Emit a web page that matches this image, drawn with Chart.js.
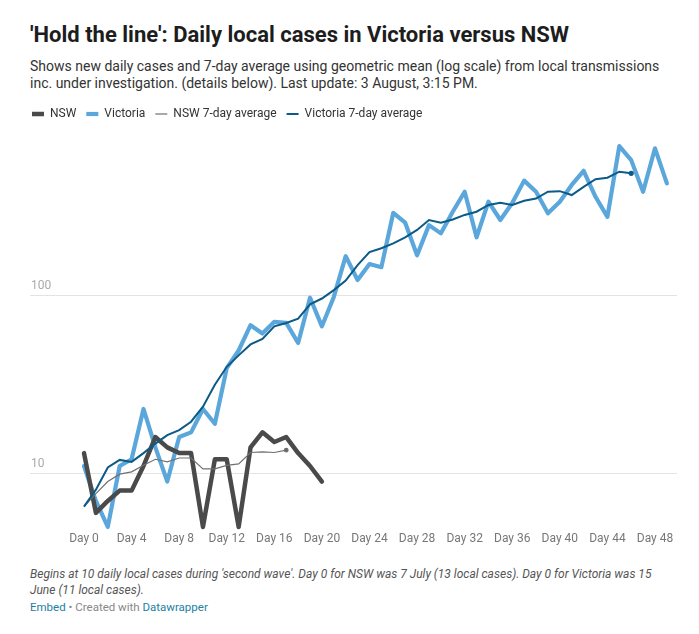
<!DOCTYPE html>
<html>
<head>
<meta charset="utf-8">
<script src="https://cdn.jsdelivr.net/npm/chart.js@4.4.1/dist/chart.umd.min.js"></script>
<style>
  body { margin: 0; background: #fff; font-family: Roboto, sans-serif; }
  #wrap { position: relative; width: 699px; height: 634px; overflow: hidden; }
  h1 { position: absolute; left: 30px; top: 21px; margin: 0; font-size: 22px; line-height: 28px; font-weight: 700; color: #1d1d1d; }
  .sub { position: absolute; left: 30px; top: 58px; width: 640px; font-size: 14px; line-height: 17px; color: #333; }
  .chart { position: absolute; left: 0; top: 98px; width: 699px; height: 455px; }
  .note { position: absolute; left: 30px; top: 566px; width: 640px; font-size: 12px; line-height: 16px; font-style: italic; color: #555; }
  .credit { position: absolute; left: 30px; top: 600px; font-size: 11.5px; color: #888; }
  .credit span { color: #1d81a2; }
</style>
</head>
<body>
<div id="wrap">
  <h1>'Hold the line': Daily local cases in Victoria versus NSW</h1>
  <div class="sub">Shows new daily cases and 7-day average using geometric mean (log scale) from local transmissions inc. under investigation. (details below). Last update: 3 August, 3:15 PM.</div>
  <div class="chart"><canvas id="casesChart"></canvas></div>
  <div class="note">Begins at 10 daily local cases during 'second wave'. Day 0 for NSW was 7 July (13 local cases). Day 0 for Victoria was 15 June (11 local cases).</div>
  <div class="credit"><span>Embed</span> • Created with <span>Datawrapper</span></div>
</div>
<script>
// Days since each state passed 10 daily local cases
const days = [0, 1, 2, 3, 4, 5, 6, 7, 8, 9, 10, 11, 12, 13, 14, 15, 16, 17, 18, 19,
              20, 21, 22, 23, 24, 25, 26, 27, 28, 29, 30, 31, 32, 33, 34, 35, 36, 37, 38, 39,
              40, 41, 42, 43, 44, 45, 46, 47, 48, 49];

const nsw = [13, 6, 7, 8, 8, 11, 16, 14, 13, 13, 5, 12, 12, 5, 14, 17, 15, 16, 13, 11, 9];
const victoria = [11, 7, 5, 11, 12, 23, 14, 9, 16, 17, 23, 19, 39, 49, 68, 61, 71, 70, 54, 97,
                  67, 98, 166, 122, 150, 144, 291, 256, 168, 248, 223, 295, 382, 212, 336, 265, 330, 441, 382, 289,
                  336, 417, 501, 358, 276, 690, 575, 382, 670, 426];

// 7-day geometric mean
const nswAvg = [6.5, 7.7, 9.0, 9.9, 10.2, 11.1, 12.0, 11.6, 12.2, 12.2, 10.6, 10.6, 11.1, 11.3, 13.1, 13.2, 13.1, 13.5];
const vicAvg = [6.5, 8.1, 10.8, 11.9, 11.6, 13.0, 14.7, 16.4, 17.5, 19.5, 23.7, 31.5, 39.7, 46, 53, 57, 67, 70, 74, 89,
                96, 107, 121, 148, 175, 184, 196, 212, 233, 265, 256, 267, 283, 295, 322, 331, 322, 340, 350, 382,
                385, 366, 407, 449, 458, 495, 485];

const dayTicks = [0, 4, 8, 12, 16, 20, 24, 28, 32, 36, 40, 44, 48];
const yTicks = [10, 100];

const toPoints = arr => arr.map((v, i) => ({ x: days[i], y: v }));
// small dot on the last point of the averages
const lastDot = (arr, r) => ctx => ctx.dataIndex === arr.length - 1 ? r : 0;

const ctx = document.getElementById('casesChart').getContext('2d');
const chart = new Chart(ctx, {
    type: 'line',
    data: {
        datasets: [{
            label: 'NSW',
            data: toPoints(nsw),
            borderColor: '#4a4a4a',
            borderWidth: 4.5,
            borderCapStyle: 'round',
            borderJoinStyle: 'round',
            pointRadius: 0,
            order: 2
        }, {
            label: 'Victoria',
            data: toPoints(victoria),
            borderColor: '#5ba7db',
            borderWidth: 4.2,
            borderCapStyle: 'round',
            borderJoinStyle: 'round',
            pointRadius: 0,
            order: 3
        }, {
            label: 'NSW 7-day average',
            data: toPoints(nswAvg),
            borderColor: '#707070',
            backgroundColor: '#666666',
            borderWidth: 1.2,
            pointRadius: lastDot(nswAvg, 1.8),
            order: 1
        }, {
            label: 'Victoria 7-day average',
            data: toPoints(vicAvg),
            borderColor: '#0b5a87',
            backgroundColor: '#0b5a87',
            borderWidth: 2,
            pointRadius: lastDot(vicAvg, 1.6),
            order: 0
        }]
    },
    options: {
        responsive: true,
        maintainAspectRatio: false,
        animation: false,
        layout: {
            padding: { left: 22, right: 22, top: 0, bottom: 6 }
        },
        scales: {
            x: {
                type: 'linear',
                min: -4.54,
                max: 49.85,
                grid: { display: false, drawTicks: false },
                border: { display: false },
                afterBuildTicks: scale => {
                    scale.ticks = dayTicks.map(v => ({ value: v }));
                },
                ticks: {
                    padding: 1,
                    color: '#777',
                    font: { family: 'Roboto', size: 12 },
                    maxRotation: 0,
                    autoSkip: false,
                    callback: v => 'Day ' + v
                }
            },
            y: {
                type: 'logarithmic',
                min: 4.77,
                max: 849,
                grid: {
                    color: '#e3e3e3',
                    lineWidth: 1,
                    drawTicks: false
                },
                border: { display: false },
                afterFit: scale => { scale.width = 8; },
                afterBuildTicks: scale => {
                    scale.ticks = yTicks.map(v => ({ value: v }));
                },
                ticks: {
                    mirror: true,
                    padding: 1,
                    labelOffset: -9,
                    color: '#aaa',
                    font: { family: 'Roboto', size: 12 },
                    callback: v => String(v)
                }
            }
        },
        plugins: {
            legend: {
                display: true,
                position: 'top',
                align: 'start',
                labels: {
                    usePointStyle: true,
                    pointStyle: 'line',
                    pointStyleWidth: 12,
                    padding: 10,
                    color: '#333',
                    font: { family: 'Roboto', size: 12 },
                    sort: (a, b) => a.datasetIndex - b.datasetIndex
                }
            },
            tooltip: { enabled: false }
        }
    }
});
</script>
</body>
</html>
